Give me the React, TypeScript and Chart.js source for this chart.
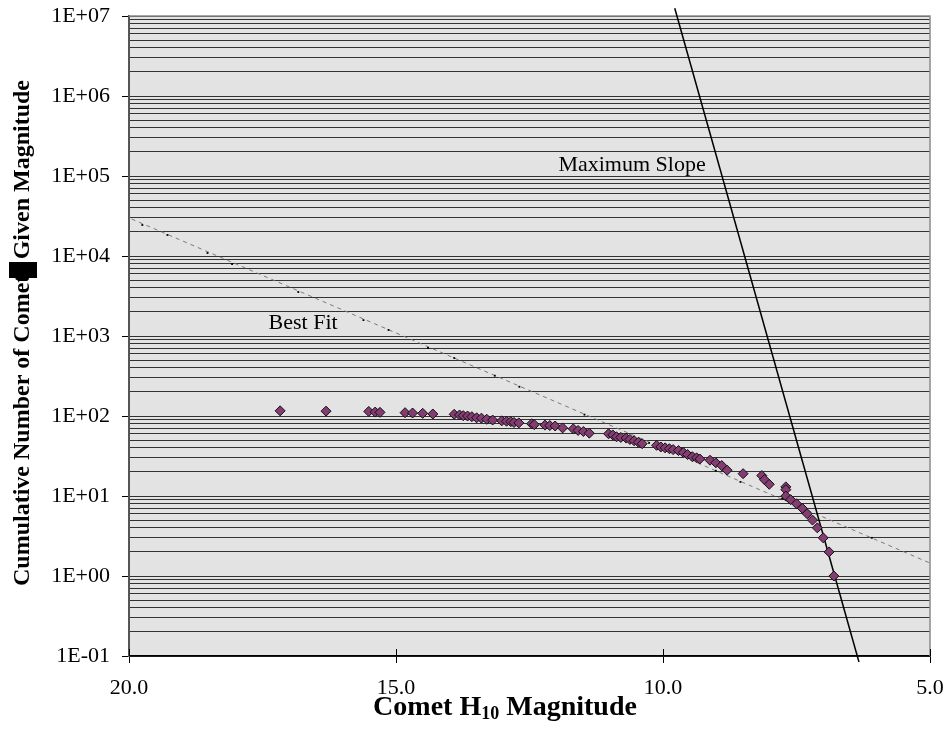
import React, { useEffect, useRef } from 'react';
import { Chart, registerables } from 'chart.js';

Chart.register(...registerables);

// Comet data: H10 magnitude and cumulative number of comets
const cometMagnitudes = [
  17.17, 16.31, 15.51, 15.39, 15.30, 14.83, 14.69, 14.50, 14.31, 13.91,
  13.81, 13.74, 13.66, 13.58, 13.49, 13.40, 13.30, 13.19, 13.02, 12.93,
  12.85, 12.79, 12.70, 12.46, 12.41, 12.21, 12.12, 12.02, 11.88, 11.68,
  11.59, 11.49, 11.38, 11.02, 10.94, 10.87, 10.79, 10.69, 10.62, 10.54,
  10.46, 10.39, 10.12, 10.04, 9.96, 9.88, 9.81, 9.71, 9.62, 9.54,
  9.45, 9.37, 9.31, 9.12, 9.01, 8.90, 8.80, 8.50, 8.15, 8.10,
  8.01, 7.70, 7.70, 7.70, 7.61, 7.50, 7.39, 7.30, 7.20, 7.11,
  7.00, 6.89, 6.80,
];
const cometCounts = [
  116, 115, 114, 112, 111, 110, 109, 108, 106, 105,
  103, 101, 100, 98, 95, 94, 91, 89, 87, 86,
  85, 83, 82, 80, 78, 77, 76, 75, 71, 69,
  66, 64, 61, 60, 58, 55, 54, 53, 51, 49,
  47, 45, 43, 41, 40, 39, 38, 37, 35, 33,
  31, 30, 29, 28, 26, 24, 21, 19, 18, 16,
  14, 13, 12, 10, 9, 8, 7, 6, 5, 4,
  3, 2, 1,
];

// Best fit line (dashed) and its small markers
const fitMagnitudes = [19.95, 5.0];
const fitCounts = [29000, 1.45];
const fitMarkerMagnitudes = [19.75, 19.28, 18.53, 18.07, 16.83, 15.61, 15.14, 14.40, 13.91, 13.15, 12.69, 11.47, 10.26, 9.01, 8.55, 7.77, 6.09];
const fitMarkerCounts = [24400, 18300, 10900, 7940, 3550, 1580, 1190, 708, 531, 319, 232, 104, 46, 20.7, 15, 9.25, 3.0];

// Maximum slope line
const slopeMagnitudes = [9.78, 6.33];
const slopeCounts = [1.25e7, 0.084];

// Axes
const xTicks = [20, 15, 10, 5];
const yMajorTicks = [0.1, 1, 10, 100, 1e3, 1e4, 1e5, 1e6, 1e7];
const yTickLabels = ['1E-01', '1E+00', '1E+01', '1E+02', '1E+03', '1E+04', '1E+05', '1E+06', '1E+07'];

// Text annotations
const annotationTexts = ['Best Fit', 'Maximum Slope'];
const annotationMagnitudes = [16.74, 10.58];
const annotationCounts = [1453, 137300];

const yTitle = 'Cumulative Number of Comets Given Magnitude';
const xTitleParts = ['Comet H', '10', ' Magnitude'];

const SERIF = '"Liberation Serif", "Times New Roman", serif';

function majorIndex(v: number): number {
  for (let i = 0; i < yMajorTicks.length; i++) {
    if (Math.abs(v - yMajorTicks[i]) / yMajorTicks[i] < 1e-6) return i;
  }
  return -1;
}

const decorPlugin = {
  id: 'decor',
  beforeDraw(chart: any) {
    const { ctx, chartArea: a } = chart;
    ctx.save();
    ctx.fillStyle = '#ffffff';
    ctx.fillRect(0, 0, chart.width, chart.height);
    ctx.fillStyle = '#e3e3e3';
    ctx.fillRect(a.left, a.top, a.right - a.left, a.bottom - a.top);
    ctx.restore();
  },
  beforeDatasetsDraw(chart: any) {
    const { ctx, chartArea: a, scales } = chart;
    ctx.save();
    // top and right plot borders
    ctx.strokeStyle = '#8a8a8a';
    ctx.lineWidth = 1.5;
    ctx.beginPath();
    ctx.moveTo(a.left, a.top);
    ctx.lineTo(a.right, a.top);
    ctx.lineTo(a.right, a.bottom);
    ctx.stroke();
    // inner part of x ticks
    ctx.strokeStyle = '#000';
    ctx.lineWidth = 1;
    xTicks.forEach((t) => {
      const px = Math.round(scales.x.getPixelForValue(t)) + 0.5;
      ctx.beginPath();
      ctx.moveTo(px, a.bottom - 7);
      ctx.lineTo(px, a.bottom);
      ctx.stroke();
    });
    ctx.restore();
  },
  afterDraw(chart: any) {
    const { ctx, scales } = chart;
    ctx.save();
    // annotations
    ctx.fillStyle = '#000';
    ctx.font = `22px ${SERIF}`;
    ctx.textAlign = 'center';
    ctx.textBaseline = 'middle';
    annotationTexts.forEach((t, i) => {
      const px = scales.x.getPixelForValue(annotationMagnitudes[i]);
      const py = scales.y.getPixelForValue(annotationCounts[i]);
      ctx.fillText(t, px, py);
    });

    // y-axis title
    ctx.save();
    ctx.translate(23, 333);
    ctx.rotate(-Math.PI / 2);
    ctx.font = `bold 24px ${SERIF}`;
    ctx.textAlign = 'center';
    ctx.textBaseline = 'middle';
    ctx.fillText(yTitle, 0, 0);
    ctx.restore();

    // black box artifact over the y title
    ctx.fillStyle = '#000';
    ctx.fillRect(9, 262, 28, 16);

    // x-axis title with subscript
    const big = `bold 28px ${SERIF}`;
    const small = `bold 18px ${SERIF}`;
    ctx.textAlign = 'left';
    ctx.textBaseline = 'alphabetic';
    ctx.font = big;
    const w0 = ctx.measureText(xTitleParts[0]).width;
    const w2 = ctx.measureText(xTitleParts[2]).width;
    ctx.font = small;
    const w1 = ctx.measureText(xTitleParts[1]).width;
    const total = w0 + w1 + w2;
    const cx = 505;
    const base = 715;
    let x = cx - total / 2;
    ctx.font = big;
    ctx.fillText(xTitleParts[0], x, base);
    x += w0;
    ctx.font = small;
    ctx.fillText(xTitleParts[1], x, base + 4);
    x += w1;
    ctx.font = big;
    ctx.fillText(xTitleParts[2], x, base);
    ctx.restore();
  },
};

export default function App() {
  const canvasRef = useRef<HTMLCanvasElement | null>(null);

  useEffect(() => {
    document.body.style.margin = '0';
    const canvas = canvasRef.current;
    if (!canvas) return;

    const yGridValues: number[] = [];
    yMajorTicks.forEach((m, i) => {
      yGridValues.push(m);
      if (i < yMajorTicks.length - 1) {
        for (let j = 2; j <= 9; j++) yGridValues.push(m * j);
      }
    });

    const chart = new Chart(canvas, {
      type: 'scatter',
      data: {
        datasets: [
          {
            label: 'Comets',
            data: cometMagnitudes.map((m, i) => ({ x: m, y: cometCounts[i] })),
            pointStyle: 'rectRot',
            pointRadius: 5,
            pointBackgroundColor: '#843c72',
            pointBorderColor: '#111',
            pointBorderWidth: 1,
            showLine: false,
            order: 0,
          },
          {
            label: 'Best Fit',
            data: fitMagnitudes.map((m, i) => ({ x: m, y: fitCounts[i] })),
            showLine: true,
            borderColor: '#7a7a7a',
            borderWidth: 1,
            borderDash: [4, 4],
            pointRadius: 0,
            order: 3,
          },
          {
            label: 'Fit markers',
            data: fitMarkerMagnitudes.map((m, i) => ({ x: m, y: fitMarkerCounts[i] })),
            showLine: false,
            pointStyle: 'rect',
            pointRadius: 1.3,
            pointBackgroundColor: '#000',
            pointBorderColor: '#000',
            pointBorderWidth: 0,
            order: 2,
          },
          {
            label: 'Maximum Slope',
            data: slopeMagnitudes.map((m, i) => ({ x: m, y: slopeCounts[i] })),
            showLine: true,
            borderColor: '#000',
            borderWidth: 1.5,
            pointRadius: 0,
            clip: false as any,
            order: 1,
          },
        ],
      },
      options: {
        responsive: false,
        animation: false,
        events: [],
        layout: { padding: { top: 16, right: 18, left: 0, bottom: 0 } },
        plugins: {
          legend: { display: false },
          tooltip: { enabled: false },
          title: { display: false },
        },
        scales: {
          x: {
            type: 'linear',
            reverse: true,
            min: 5,
            max: 20,
            afterBuildTicks: (scale: any) => {
              scale.ticks = xTicks.map((v) => ({ value: v }));
            },
            afterFit: (scale: any) => {
              scale.height = 91;
              scale.paddingLeft = 0;
              scale.paddingRight = 0;
            },
            ticks: {
              autoSkip: false,
              maxRotation: 0,
              padding: 12,
              color: '#000',
              font: { family: SERIF, size: 22 },
              callback: (v: any) => Number(v).toFixed(1),
            },
            grid: {
              drawOnChartArea: false,
              drawTicks: true,
              tickLength: 7,
              tickColor: '#000',
              tickWidth: 1,
            },
            border: { color: '#000', width: 1.5 },
          },
          y: {
            type: 'logarithmic',
            min: 0.1,
            max: 1e7,
            afterBuildTicks: (scale: any) => {
              scale.ticks = yGridValues.map((v) => ({ value: v }));
            },
            afterFit: (scale: any) => {
              scale.width = 129;
              scale.paddingTop = 0;
              scale.paddingBottom = 0;
            },
            ticks: {
              autoSkip: false,
              padding: 12,
              color: '#000',
              font: { family: SERIF, size: 22 },
              callback: (v: any) => {
                const i = majorIndex(Number(v));
                return i >= 0 ? yTickLabels[i] : '';
              },
            },
            grid: {
              color: '#333',
              lineWidth: 1,
              drawTicks: true,
              tickLength: 7,
              tickWidth: 1,
              tickColor: (ctx: any) =>
                ctx.tick && majorIndex(ctx.tick.value) >= 0 ? '#000' : 'rgba(0,0,0,0)',
            },
            border: { color: '#555', width: 2 },
          },
        },
      },
      plugins: [decorPlugin],
    } as any);

    return () => {
      chart.destroy();
    };
  }, []);

  return (
    <div style={{ width: 948, height: 747 }}>
      <canvas ref={canvasRef} width={948} height={747} style={{ display: 'block' }} />
    </div>
  );
}
